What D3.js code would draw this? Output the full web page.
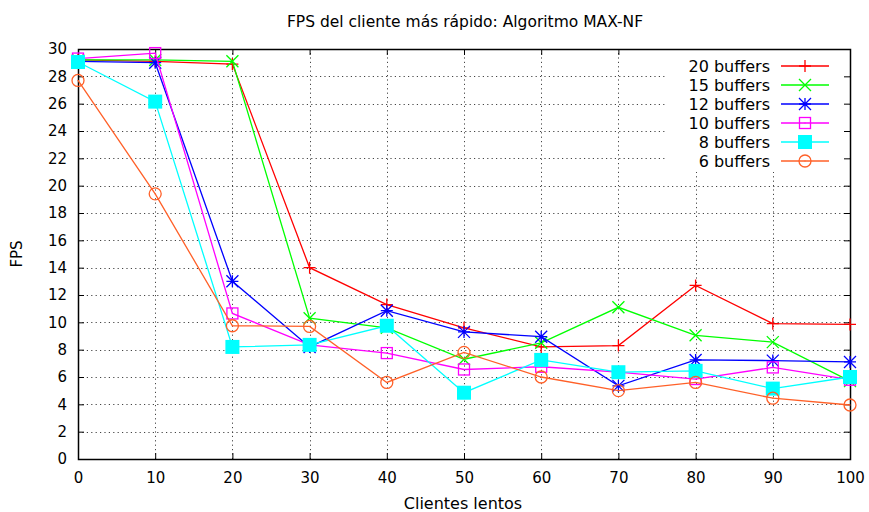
<!DOCTYPE html>
<html>
<head>
<meta charset="utf-8">
<script src="https://cdn.jsdelivr.net/npm/d3@7"></script>
<style>
  html, body { margin: 0; padding: 0; background: #fff; }
  svg text { font-family: "DejaVu Sans", sans-serif; fill: #000; }
</style>
</head>
<body>
<svg id="chart" width="869" height="512"></svg>
<script>
// Slow clients on the x axis, FPS of the fastest client per buffer count
const clients = [0, 10, 20, 30, 40, 50, 60, 70, 80, 90, 100];
const fps20 = [29.2, 29.1, 28.9, 14.0, 11.3, 9.6, 8.2, 8.3, 12.7, 9.9, 9.85];
const fps15 = [29.2, 29.2, 29.1, 10.3, 9.6, 7.3, 8.5, 11.1, 9.05, 8.55, 5.7];
const fps12 = [29.1, 29.0, 13.0, 8.2, 10.85, 9.3, 8.95, 5.35, 7.25, 7.2, 7.1];
const fps10 = [29.3, 29.7, 10.65, 8.35, 7.75, 6.55, 6.75, 6.35, 5.85, 6.7, 5.8];
const fps8  = [29.05, 26.15, 8.2, 8.35, 9.75, 4.85, 7.25, 6.35, 6.45, 5.15, 6.0];
const fps6  = [27.7, 19.4, 9.75, 9.7, 5.6, 7.8, 6.0, 5.0, 5.6, 4.45, 3.95];

const seriesNames = ["20 buffers", "15 buffers", "12 buffers", "10 buffers", "8 buffers", "6 buffers"];
const seriesValues = [fps20, fps15, fps12, fps10, fps8, fps6];
const seriesColors = ["#ff0000", "#00ff00", "#0000ff", "#ff00ff", "#00ffff", "#ff6028"];
const seriesMarkers = ["plus", "cross", "star", "square", "filledSquare", "circle"];

const xTicks = d3.range(0, 101, 10);
const yTicks = d3.range(0, 31, 2);

const margin = { left: 78, right: 19, top: 49, bottom: 53 };
const W = 869, H = 512;
const svg = d3.select("#chart");

const x = d3.scaleLinear().domain([0, 100]).range([margin.left, W - margin.right]);
const y = d3.scaleLinear().domain([0, 30]).range([H - margin.bottom, margin.top]);

const x0 = x.range()[0], x1 = x.range()[1];
const y0 = y.range()[0], y1 = y.range()[1];

// Legend area (opaque), used to clip the grid
const legend = { x: 665, y: 50, w: 184, h: 122 };

svg.append("defs").append("clipPath").attr("id", "gridClip")
  .append("path")
  .attr("clip-rule", "evenodd")
  .attr("d", `M0,0H${W}V${H}H0Z M${legend.x},${legend.y}h${legend.w}v${legend.h}h${-legend.w}Z`);

// Dotted grid
const grid = svg.append("g").attr("clip-path", "url(#gridClip)")
  .attr("stroke", "#444").attr("stroke-width", 1).attr("stroke-dasharray", "1.2,3.2");
grid.selectAll("line.gx").data(xTicks.slice(1, -1)).join("line")
  .attr("x1", d => Math.round(x(d)) + 0.5).attr("x2", d => Math.round(x(d)) + 0.5)
  .attr("y1", y0).attr("y2", y1);
grid.selectAll("line.gy").data(yTicks.slice(1, -1)).join("line")
  .attr("y1", d => Math.round(y(d)) + 0.5).attr("y2", d => Math.round(y(d)) + 0.5)
  .attr("x1", x0).attr("x2", x1);

// Axes with inward ticks on all four sides
const tickLen = 6;
const axBottom = svg.append("g").attr("transform", `translate(0,${y0})`)
  .call(d3.axisBottom(x).tickValues(xTicks).tickSize(-tickLen).tickPadding(tickLen + 7).tickSizeOuter(0));
const axTop = svg.append("g").attr("transform", `translate(0,${y1})`)
  .call(d3.axisTop(x).tickValues(xTicks).tickSize(-tickLen).tickFormat("").tickSizeOuter(0));
const axLeft = svg.append("g").attr("transform", `translate(${x0},0)`)
  .call(d3.axisLeft(y).tickValues(yTicks).tickSize(-tickLen).tickPadding(tickLen + 5).tickSizeOuter(0));
const axRight = svg.append("g").attr("transform", `translate(${x1},0)`)
  .call(d3.axisRight(y).tickValues(yTicks).tickSize(-tickLen).tickFormat("").tickSizeOuter(0));
[axBottom, axTop, axLeft, axRight].forEach(g => {
  g.select(".domain").remove();
  g.selectAll(".tick line").attr("stroke", "#000").attr("stroke-width", 1);
  g.selectAll("text").style("font-family", "DejaVu Sans, sans-serif").style("font-size", "15px").attr("fill", "#000");
});
// Hide ticks under the legend
axTop.selectAll(".tick").filter(d => x(d) > legend.x && x(d) < legend.x + legend.w).select("line").remove();
axRight.selectAll(".tick").filter(d => y(d) > legend.y && y(d) < legend.y + legend.h).select("line")
  .attr("x1", 0).attr("x2", -tickLen);

// Frame
svg.append("rect").attr("x", x0 + 0.5).attr("y", y1 + 0.5)
  .attr("width", x1 - x0).attr("height", y0 - y1)
  .attr("fill", "none").attr("stroke", "#000").attr("stroke-width", 1.5);

// Marker drawing
function drawMarker(g, type, cx, cy, color) {
  const s = 6;
  if (type === "plus") {
    g.append("path").attr("d", `M${cx - s},${cy}H${cx + s}M${cx},${cy - s}V${cy + s}`)
      .attr("stroke", color).attr("stroke-width", 1.3).attr("fill", "none");
  } else if (type === "cross") {
    g.append("path").attr("d", `M${cx - s},${cy - s}L${cx + s},${cy + s}M${cx - s},${cy + s}L${cx + s},${cy - s}`)
      .attr("stroke", color).attr("stroke-width", 1.3).attr("fill", "none");
  } else if (type === "star") {
    g.append("path").attr("d", `M${cx - s},${cy}H${cx + s}M${cx},${cy - s}V${cy + s}M${cx - s},${cy - s}L${cx + s},${cy + s}M${cx - s},${cy + s}L${cx + s},${cy - s}`)
      .attr("stroke", color).attr("stroke-width", 1.3).attr("fill", "none");
  } else if (type === "square") {
    g.append("rect").attr("x", cx - 5.5).attr("y", cy - 5.5).attr("width", 11).attr("height", 11)
      .attr("stroke", color).attr("stroke-width", 1.3).attr("fill", "none");
    g.append("rect").attr("x", cx - 0.5).attr("y", cy - 0.5).attr("width", 1).attr("height", 1).attr("fill", color);
  } else if (type === "filledSquare") {
    g.append("rect").attr("x", cx - 7).attr("y", cy - 7).attr("width", 14).attr("height", 14)
      .attr("fill", color);
  } else if (type === "circle") {
    g.append("circle").attr("cx", cx).attr("cy", cy).attr("r", 6)
      .attr("stroke", color).attr("stroke-width", 1.3).attr("fill", "none");
    g.append("rect").attr("x", cx - 0.5).attr("y", cy - 0.5).attr("width", 1).attr("height", 1).attr("fill", color);
  }
}

const line = d3.line().x((d, i) => x(clients[i])).y(d => y(d));

seriesValues.forEach((vals, k) => {
  const g = svg.append("g");
  g.append("path").datum(vals).attr("d", line)
    .attr("fill", "none").attr("stroke", seriesColors[k]).attr("stroke-width", 1.3);
  vals.forEach((v, i) => drawMarker(g, seriesMarkers[k], x(clients[i]), y(v), seriesColors[k]));
});

// Legend
const lg = svg.append("g");
seriesNames.forEach((name, k) => {
  const ly = 66 + k * 19;
  lg.append("text").attr("x", 770).attr("y", ly).attr("dy", "0.35em")
    .attr("text-anchor", "end").style("font-size", "16px").text(name);
  lg.append("line").attr("x1", 781).attr("x2", 829).attr("y1", ly).attr("y2", ly)
    .attr("stroke", seriesColors[k]).attr("stroke-width", 1.3);
  drawMarker(lg, seriesMarkers[k], 805, ly, seriesColors[k]);
});

// Title and axis labels
svg.append("text").attr("x", 465).attr("y", 27).attr("text-anchor", "middle")
  .style("font-size", "15.5px").text("FPS del cliente más rápido: Algoritmo MAX-NF");
svg.append("text").attr("x", 463).attr("y", 509).attr("text-anchor", "middle")
  .style("font-size", "16px").text("Clientes lentos");
svg.append("text").attr("transform", `translate(22,${(y0 + y1) / 2}) rotate(-90)`)
  .attr("text-anchor", "middle").style("font-size", "15px").text("FPS");
</script>
</body>
</html>
